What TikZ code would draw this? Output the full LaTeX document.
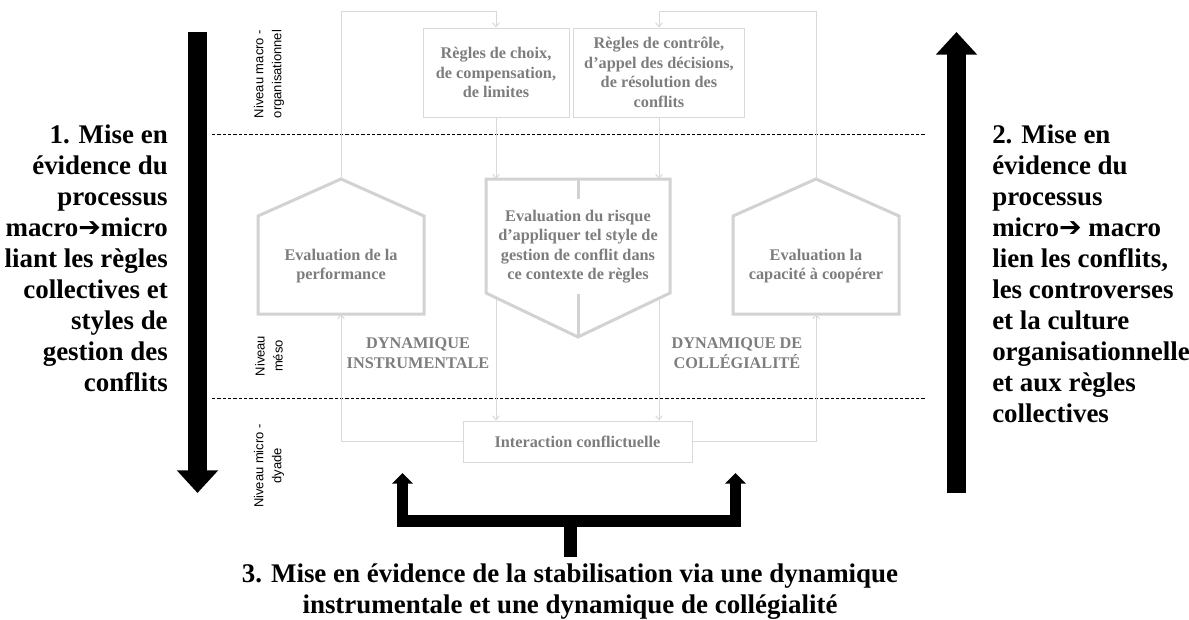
\documentclass[tikz,border=0pt]{standalone}
\usepackage{fontspec}
\setmainfont{Liberation Serif}
\setsansfont{Liberation Sans}
\newfontfamily\arrowfont{DejaVu Sans}
\usetikzlibrary{positioning, arrows.meta, calc}

\definecolor{linegray}{RGB}{217,217,217}
\definecolor{shapegray}{RGB}{210,210,210}
\definecolor{txtgray}{RGB}{125,125,125}

\tikzset{
  link/.style={draw=linegray, line width=0.75pt, -{Straight Barb[length=3pt,width=5pt]}},
  penta/.style={draw=shapegray, line width=2.25pt, line join=miter},
  rulebox/.style={draw=linegray, line width=0.75pt, text=txtgray, align=center, inner sep=0pt,
    font=\fontsize{12.2}{14.6}\selectfont\bfseries},
  graytext/.style={text=txtgray, align=center, inner sep=1pt, font=\fontsize{12.2}{14.6}\selectfont\bfseries},
  niveau/.style={rotate=90, align=center, inner sep=0pt, font=\sffamily\fontsize{9.75}{13.5}\selectfont},
  sidetext/.style={inner sep=0pt, font=\fontsize{20.2}{23.25}\selectfont\bfseries},
  dashsep/.style={draw=black, line width=0.6pt, dash pattern=on 2.5pt off 1.5pt},
  bigarrow/.style={draw=black, line width=14.25pt, -{Triangle[length=17pt,width=30pt]}},
  bracket/.style={draw=black, line width=8.6pt, line join=miter}
}

\begin{document}
\begin{tikzpicture}[x=0.75pt, y=-0.75pt]
  \useasboundingbox (0,0) rectangle (1189,619);

  % niveaux et separations
  \node[niveau] (macro) at (269,74) {Niveau macro -\\organisationnel};
  \node[niveau] (meso) at (269,356) {Niveau\\méso};
  \node[niveau] (micro) at (269,466) {Niveau micro -\\dyade};
  \coordinate (sepA1) at (212,134); \coordinate (sepA2) at (925,134);
  \coordinate (sepB1) at (212,398); \coordinate (sepB2) at (925,398);
  \draw[dashsep] (sepA1) -- (sepA2);
  \draw[dashsep] (sepB1) -- (sepB2);

  % regles collectives
  \node[rulebox, minimum width=109.5pt, minimum height=66.75pt] (choix) at (496,72.5)
    {Règles de choix,\\de compensation,\\de limites};
  \node[rulebox, minimum width=128.25pt, minimum height=66.75pt] (controle) at (659,72.5)
    {Règles de contrôle,\\d’appel des décisions,\\de résolution des\\conflits};
  \node[rulebox, minimum width=171.75pt, minimum height=30.75pt] (inter) at (577.5,441.5)
    {Interaction conflictuelle};

  % evaluations
  \coordinate (perfN) at (341,179); \coordinate (perfS) at (341,314);
  \coordinate (coopN) at (816,179); \coordinate (coopS) at (816,314);
  \coordinate (riskN) at (578,179); \coordinate (riskS) at (578,337);
  \coordinate (topL) at (341,11); \coordinate (topR) at (816,11);

  \draw[link] (choix.south) -- (choix.south |- inter.north);
  \draw[link] (controle.south) -- (controle.south |- inter.north);

  \draw[penta, fill=white] (258,216) -- (perfN) -- (424,216) -- (424,314) -- (258,314) -- cycle;
  \draw[penta, fill=white] (733,216) -- (coopN) -- (899,216) -- (899,314) -- (733,314) -- cycle;
  \draw[penta, fill=white] (486,179) -- (670,179) -- (670,293) -- (riskS) -- (486,293) -- cycle;
  \draw[penta] (riskN) -- (riskS);

  \node[graytext] (perf) at (341,266) {Evaluation de la\\performance};
  \node[graytext] (coop) at (816,266) {Evaluation la\\capacité à coopérer};
  \node[graytext, fill=white, minimum height=71pt] (risk) at (578,246.5)
    {Evaluation du risque\\d’appliquer tel style de\\gestion de conflit dans\\ce contexte de règles};

  \node[graytext] (instru) at (418,353) {DYNAMIQUE\\INSTRUMENTALE};
  \node[graytext] (colleg) at (737,353) {DYNAMIQUE DE\\COLLÉGIALITÉ};

  % boucles
  \draw[link] (choix.south) -- (choix.south |- riskN);
  \draw[link] (controle.south) -- (controle.south |- riskN);
  \draw[link] (perfN) -- (topL) -| (choix.north);
  \draw[link] (coopN) -- (topR) -| (controle.north);
  \draw[link] (inter.west) -| (perfS);
  \draw[link] (inter.east) -| (coopS);

  % processus
  \coordinate (downTop) at (197.5,32); \coordinate (downTip) at (197.5,493);
  \coordinate (upBot) at (956.5,493); \coordinate (upTip) at (956.5,32);
  \draw[bigarrow] (downTop) -- (downTip);
  \draw[bigarrow] (upBot) -- (upTip);

  \node[sidetext, anchor=north east, align=right] (proc1) at (168,125)
    {1. Mise en\\évidence du\\processus\\macro{\arrowfont ➔}micro\\liant les règles\\collectives et\\styles de\\gestion des\\conflits};
  \node[sidetext, anchor=north west, align=left] (proc2) at (992,125)
    {2. Mise en\\évidence du\\processus\\micro{\arrowfont ➔} macro\\lien les conflits,\\les controverses\\et la culture\\organisationnelle\\et aux règles\\collectives};

  % stabilisation
  \coordinate (tipL) at (402.5,473); \coordinate (barL) at (402.5,521);
  \coordinate (tipR) at (735.5,473); \coordinate (barR) at (735.5,521);
  \coordinate (stemTop) at (570,521); \coordinate (stemBot) at (570,557);
  \draw[bracket, {Triangle[length=8pt,width=15.5pt]}-{Triangle[length=8pt,width=15.5pt]}]
    (tipL) -- (barL) -- (barR) -- (tipR);
  \draw[bracket, line width=9.75pt] (stemTop) -- (stemBot);
  \node[sidetext, anchor=north, align=center] (stab) at (570,564)
    {3. Mise en évidence de la stabilisation via une dynamique\\instrumentale et une dynamique de collégialité};
\end{tikzpicture}
\end{document}
